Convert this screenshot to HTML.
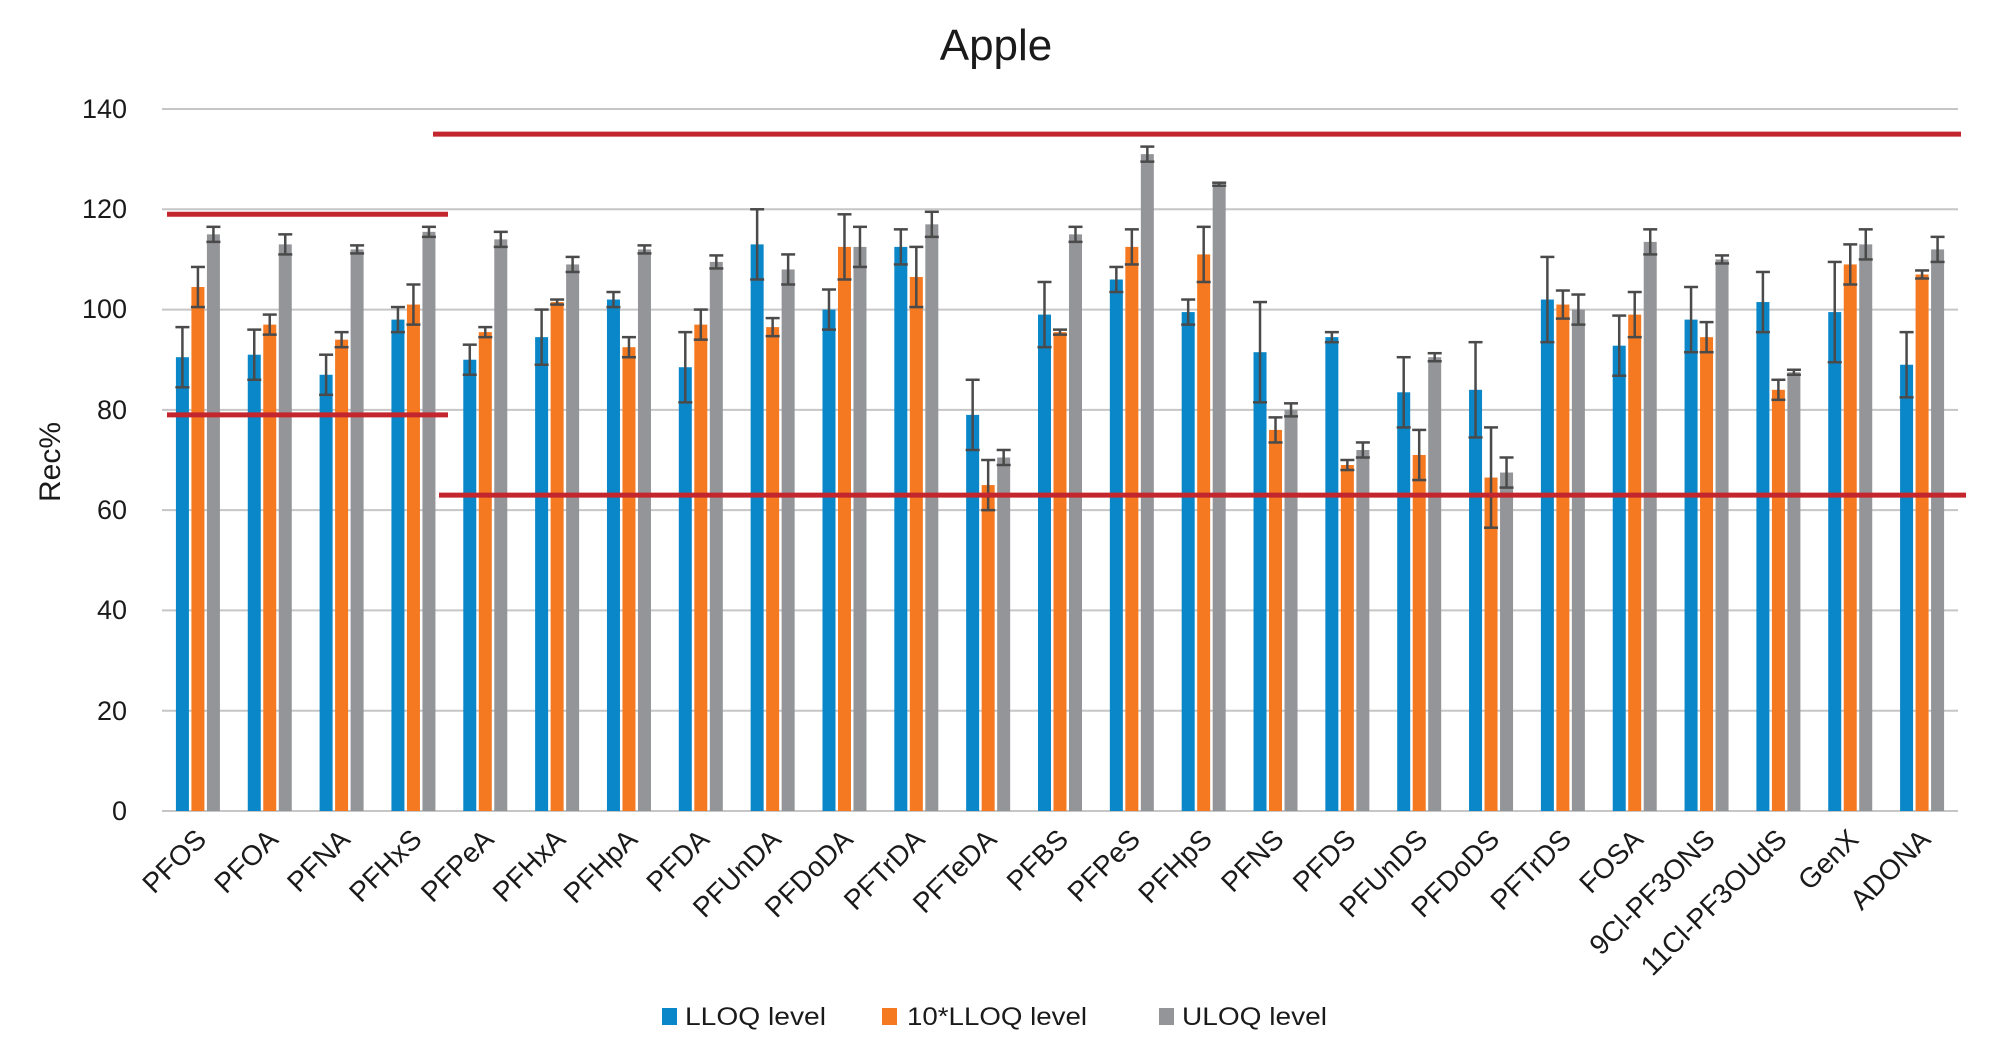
<!DOCTYPE html>
<html><head><meta charset="utf-8"><style>
html,body{margin:0;padding:0;background:#fff;width:2000px;height:1064px;overflow:hidden}
svg{display:block}
text{font-family:"Liberation Sans",Arial,sans-serif;fill:#1a1a1a}
</style></head><body>
<svg id="c" width="2000" height="1064" viewBox="0 0 2000 1064" xmlns="http://www.w3.org/2000/svg">
<text x="996" y="60" font-size="44" text-anchor="middle">Apple</text>
<g id="grid" stroke="#c6c6c6" stroke-width="2"></g>
<g font-size="27" text-anchor="end">
<text x="127" y="820">0</text>
<text x="127" y="720">20</text>
<text x="127" y="619">40</text>
<text x="127" y="519">60</text>
<text x="127" y="419">80</text>
<text x="127" y="318">100</text>
<text x="127" y="218">120</text>
<text x="127" y="118">140</text>
</g>
<text x="0" y="0" font-size="30" text-anchor="middle" transform="translate(60,462) rotate(-90)">Rec%</text>
<g id="bars"></g>
<g id="reds" stroke="#c4262e" stroke-width="5"></g>
<g id="labels" font-size="28" text-anchor="end">
<text data-i="0">PFOS</text><text data-i="1">PFOA</text><text data-i="2">PFNA</text><text data-i="3">PFHxS</text>
<text data-i="4">PFPeA</text><text data-i="5">PFHxA</text><text data-i="6">PFHpA</text><text data-i="7">PFDA</text>
<text data-i="8">PFUnDA</text><text data-i="9">PFDoDA</text><text data-i="10">PFTrDA</text><text data-i="11">PFTeDA</text>
<text data-i="12">PFBS</text><text data-i="13">PFPeS</text><text data-i="14">PFHpS</text><text data-i="15">PFNS</text>
<text data-i="16">PFDS</text><text data-i="17">PFUnDS</text><text data-i="18">PFDoDS</text><text data-i="19">PFTrDS</text>
<text data-i="20">FOSA</text><text data-i="21">9Cl-PF3ONS</text><text data-i="22">11Cl-PF3OUdS</text><text data-i="23">GenX</text>
<text data-i="24">ADONA</text>
</g>
<rect x="662" y="1008" width="15" height="17" fill="#0a87c8"/>
<text x="685" y="1025" font-size="25" textLength="141" lengthAdjust="spacingAndGlyphs">LLOQ level</text>
<rect x="882" y="1008" width="15" height="17" fill="#f47920"/>
<text x="907" y="1025" font-size="25" textLength="180" lengthAdjust="spacingAndGlyphs">10*LLOQ level</text>
<rect x="1159" y="1008" width="15" height="17" fill="#939598"/>
<text x="1182" y="1025" font-size="25" textLength="145" lengthAdjust="spacingAndGlyphs">ULOQ level</text>
</svg>
<script>
var NS="http://www.w3.org/2000/svg";
function el(p,t,a){var e=document.createElementNS(NS,t);for(var k in a)e.setAttribute(k,a[k]);p.appendChild(e);return e;}
function Y(v){return 811-v*702/140;}
var g=document.getElementById('grid');
for(var v=0;v<=140;v+=20){el(g,'line',{x1:162,x2:1958,y1:Y(v),y2:Y(v)});}
var D=[[90.5,6,104.5,4,115,1.5],[91,5,97,2,113,2],[87,4,94,1.5,112,0.8],[98,2.5,101,4,115.5,1],
[90,3,95.5,1,114,1.5],[94.5,5.5,101.5,0.5,109,1.5],[102,1.5,92.5,2,112,0.8],[88.5,7,97,3,109.5,1.3],
[113,7,96.5,1.8,108,3],[100,4,112.5,6.5,112.5,4],[112.5,3.5,106.5,6,117,2.5],[79,7,65,5,70.5,1.5],
[99,6.5,95.5,0.5,115,1.5],[106,2.5,112.5,3.5,131,1.5],[99.5,2.5,111,5.5,125,0.3],[91.5,10,76,2.5,80,1.3],
[94.5,1,69,1,72,1.5],[83.5,7,71,5,90.5,0.8],[84,9.5,66.5,10,67.5,3],[102,8.5,101,2.8,100,3],
[92.8,6,99,4.5,113.5,2.5],[98,6.5,94.5,3,110,0.8],[101.5,6,84,2,87.5,0.5],[99.5,10,109,4,113,3],
[89,6.5,107,0.8,112,2.5]];
var cols=['#0a87c8','#f47920','#939598'];
var b=document.getElementById('bars');
var W=1796/25;
for(var i=0;i<25;i++){
 var cx=162+W*(i+0.5);
 for(var s=0;s<3;s++){
  var x=cx+(s-1)*15.5, v=D[i][2*s], e=D[i][2*s+1];
  el(b,'rect',{x:x-6.5,y:Y(v),width:13,height:811-Y(v),fill:cols[s]});
  var t=Y(v+e),bo=Y(v-e);
  el(b,'line',{x1:x,x2:x,y1:t,y2:bo,stroke:'#4a4a4a','stroke-width':2.5});
  el(b,'line',{x1:x-7,x2:x+7,y1:t,y2:t,stroke:'#4a4a4a','stroke-width':2.5});
  el(b,'line',{x1:x-7,x2:x+7,y1:bo,y2:bo,stroke:'#4a4a4a','stroke-width':2.5});
 }
}
var r=document.getElementById('reds');
el(r,'line',{x1:167,x2:448,y1:Y(119),y2:Y(119)});
el(r,'line',{x1:167,x2:448,y1:Y(79),y2:Y(79)});
el(r,'line',{x1:433,x2:1961,y1:Y(135),y2:Y(135)});
el(r,'line',{x1:439,x2:1966,y1:Y(63),y2:Y(63)});
var L=document.querySelectorAll('#labels text');
for(var j=0;j<L.length;j++){var i=+L[j].getAttribute('data-i');var cx=162+W*(i+0.5);
 L[j].setAttribute('transform','translate('+(cx+10)+',841) rotate(-45)');}
</script>
</body></html>
